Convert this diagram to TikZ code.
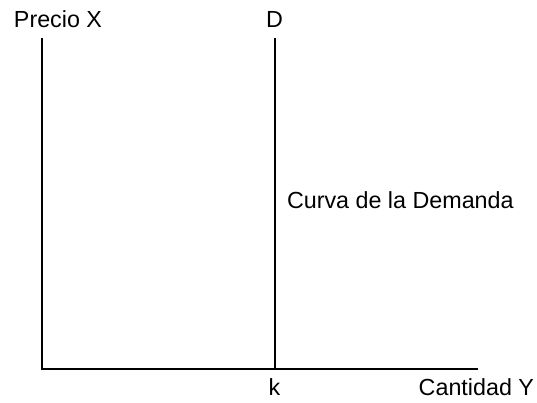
\documentclass[tikz,border=0pt]{standalone}
\usepackage{fontspec}
\setmainfont{Liberation Sans}
\begin{document}
\begin{tikzpicture}[x=1pt, y=1pt, line width=2pt,
    every node/.style={inner sep=0pt, font=\fontsize{23.3}{27}\selectfont},
    axislabel/.style={anchor=base}]
      \useasboundingbox (0,0) rectangle (537,402);
      % Axes
      \coordinate (origin) at (41.5,33);
      \coordinate (ytop) at (41.5,364);
      \coordinate (xend) at (478,33);
      \draw (ytop) -- (origin) -- (xend);
      % Demand curve
      \coordinate (dtop) at (274.5,364);
      \coordinate (dbot) at (274.5,33);
      \draw (dtop) -- (dbot);
      % Labels
      \node[axislabel] (precio) at (58,374) {Precio X};
      \node[axislabel] (dlabel) at (274.5,374) {D};
      \node[anchor=base west] (curva) at (286,194) {Curva de la Demanda};
      \node[axislabel] (k) at (274.5,7) {k};
      \node[anchor=base east] (cantidad) at (535,7) {Cantidad Y};
    \end{tikzpicture}
\end{document}
